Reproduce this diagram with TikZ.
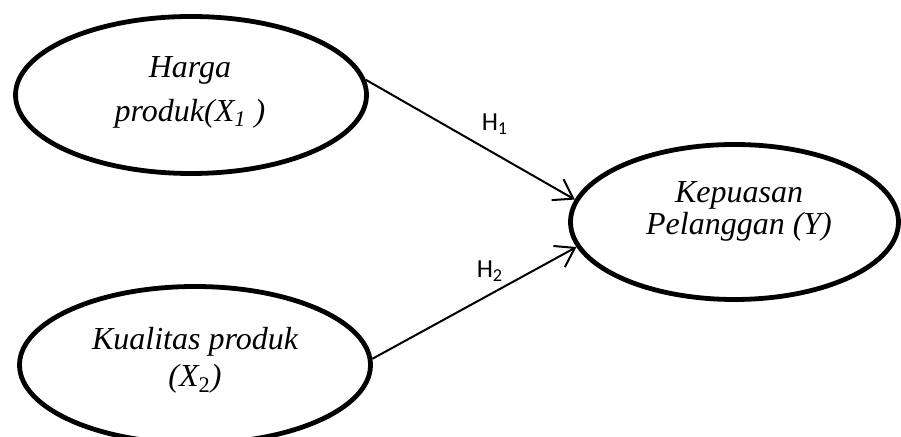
\documentclass[tikz,border=0pt]{standalone}
\usepackage{fontspec}
\setmainfont{Liberation Serif}
\newfontfamily\calibri{Carlito}
\usetikzlibrary{shapes.geometric, arrows.meta}

\begin{document}
\begin{tikzpicture}[x=0.5pt, y=-0.5pt,
		latent/.style={draw, ellipse, line width=2.4pt, minimum width=175.5pt, minimum height=78.5pt, inner sep=0pt},
		txt/.style={align=center, font=\fontsize{16}{20}\selectfont\itshape},
		hyp/.style={line width=1pt, -{Straight Barb[length=9pt, width=12pt]}},
		hlabel/.style={font=\calibri\fontsize{13}{15}\selectfont}]
		\useasboundingbox (0,0) rectangle (901,437);
		% variables
		\node[latent] (harga) at (191,95) {};
		\node[latent] (kualitas) at (195,365) {};
		\node[latent, minimum width=164pt, minimum height=77.5pt] (kepuasan) at (734.5,222) {};
			\node[txt] (hargatxt) at (190,92.7) {Harga\\[2pt]produk(X\textsubscript{1} )};
			\node[txt] (kualitastxt) at (195,360.7) {Kualitas produk\\[-1.5pt](X\textsubscript{\upshape 2})};
			\node[txt] (kepuasantxt) at (739,211.7) {Kepuasan\\[-4pt]Pelanggan (Y)};
		% hypotheses
		\draw[hyp] (harga.5) -- (kepuasan.172);
		\draw[hyp] (kualitas.2) -- (kepuasan.189);
			\node[hlabel] (h1) at (495,124) {H\textsubscript{1}};
			\node[hlabel] (h2) at (490,271) {H\textsubscript{2}};

	\end{tikzpicture}
\end{document}
